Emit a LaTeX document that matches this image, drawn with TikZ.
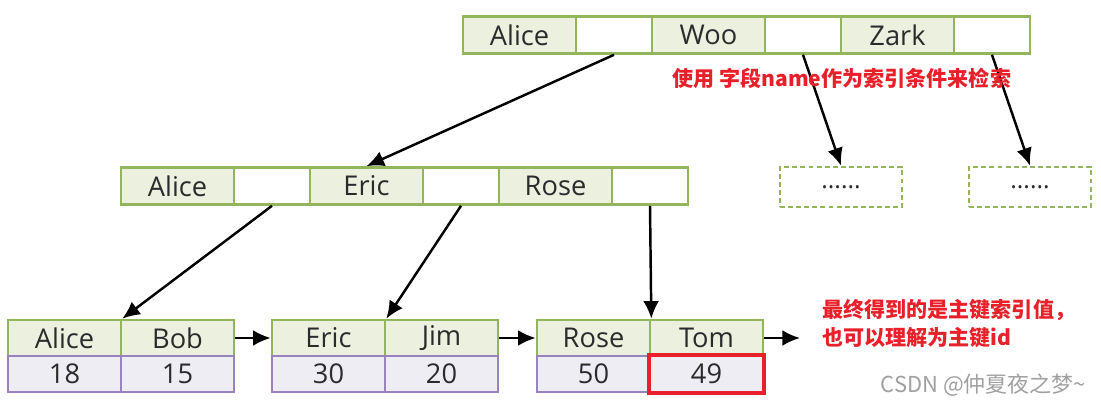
\documentclass[tikz,border=0pt]{standalone}
\usepackage{fontspec}
\setmainfont{Open Sans}
\newfontfamily\cjk{Noto Sans CJK SC}
\usetikzlibrary{arrows.meta}
\definecolor{nodegreen}{HTML}{93B55C}
\definecolor{keyfill}{HTML}{EBF0DF}
\definecolor{valpurple}{HTML}{9883BE}
\definecolor{valfill}{HTML}{EFEDF4}
\definecolor{txtgray}{HTML}{2B2B2B}
\definecolor{notered}{HTML}{E8202A}
\definecolor{markgray}{HTML}{A0A0A0}

\begin{document}
\begin{tikzpicture}[x=0.02cm, y=-0.02cm,
      cell/.style={draw=nodegreen, line width=1.5pt, inner sep=0pt,
        minimum height=0.74cm, text=txtgray, font=\fontsize{15.5}{15.5}\selectfont},
      keycell/.style={cell, fill=keyfill, minimum width=2.26cm},
      ptrcell/.style={cell, fill=white, minimum width=1.52cm},
      leafkey/.style={keycell, minimum height=0.72cm},
      valcell/.style={cell, draw=valpurple, fill=valfill, minimum width=2.26cm, minimum height=0.72cm},
      more/.style={draw=nodegreen, line width=1.5pt, dash pattern=on 2.8pt off 1.8pt,
        minimum width=2.44cm, minimum height=0.8cm, text=txtgray, font=\fontsize{14}{14}\selectfont},
      arrow/.style={-{Latex[length=10pt,width=9pt]}, line width=1.4pt},
      note/.style={text=notered, font=\cjk\bfseries\fontsize{12}{16}\selectfont, align=left},
    ]
    \useasboundingbox (0,0) rectangle (1101,404);

    % root node
    \node[keycell] (r1) at (519.5, 35) {Alice};
    \node[ptrcell] (rp1) at (614, 35) {};
    \node[keycell] (r2) at (708.5, 35) {Woo};
    \node[ptrcell] (rp2) at (803, 35) {};
    \node[keycell] (r3) at (897.5, 35) {Zark};
    \node[ptrcell] (rp3) at (992, 35) {};

    % middle node
    \node[keycell] (m1) at (177.5, 186) {Alice};
    \node[ptrcell] (mp1) at (272, 186) {};
    \node[keycell] (m2) at (366.5, 186) {Eric};
    \node[ptrcell] (mp2) at (461, 186) {};
    \node[keycell] (m3) at (555.5, 186) {Rose};
    \node[ptrcell] (mp3) at (650, 186) {};

    \node[more] (more1) at (841, 187) {......};
    \node[more] (more2) at (1030, 187) {......};

    % leaves
    \node[leafkey] (l1a) at (64.5, 338) {Alice};
    \node[leafkey] (l1b) at (177.5, 338) {Bob};
    \node[valcell] (v1a) at (64.5, 374) {18};
    \node[valcell] (v1b) at (177.5, 374) {15};
    \node[leafkey] (l2a) at (328.5, 338) {Eric};
    \node[leafkey] (l2b) at (441.5, 338) {Jim};
    \node[valcell] (v2a) at (328.5, 374) {30};
    \node[valcell] (v2b) at (441.5, 374) {20};
    \node[leafkey] (l3a) at (593.5, 338) {Rose};
    \node[leafkey] (l3b) at (706.5, 338) {Tom};
    \node[valcell] (v3a) at (593.5, 374) {50};
    \node[valcell] (v3b) at (706.5, 374) {49};
    \draw[notered, line width=2.2pt] (v3b.north west) rectangle (v3b.south east);
    \coordinate (next) at (800, 338);

    \draw[arrow] (rp1.south) -- (m2.north);
    \draw[arrow] (rp2.south) -- (more1.north);
    \draw[arrow] (rp3.south) -- (more2.north);
    \draw[arrow] (mp1.south) -- (l1a.north east);
    \draw[arrow] (mp2.south) -- (l2a.north east);
    \draw[arrow] (mp3.south) -- (l3a.north east);
    \draw[arrow] (l1b.east) -- (l2a.west);
    \draw[arrow] (l2b.east) -- (l3a.west);
    \draw[arrow] (l3b.east) -- (next);

    \node[note, anchor=west] (cond) at (666, 78) {使用 字段name作为索引条件来检索};
    \node[note, anchor=west] (result) at (816, 324) {最终得到的是主键索引值，\\也可以理解为主键id};
    \node[anchor=east, text=markgray, font=\cjk\fontsize{12.5}{12.5}\selectfont] (mark) at (1092, 385) {CSDN @仲夏夜之梦\textasciitilde};
  \end{tikzpicture}
\end{document}
